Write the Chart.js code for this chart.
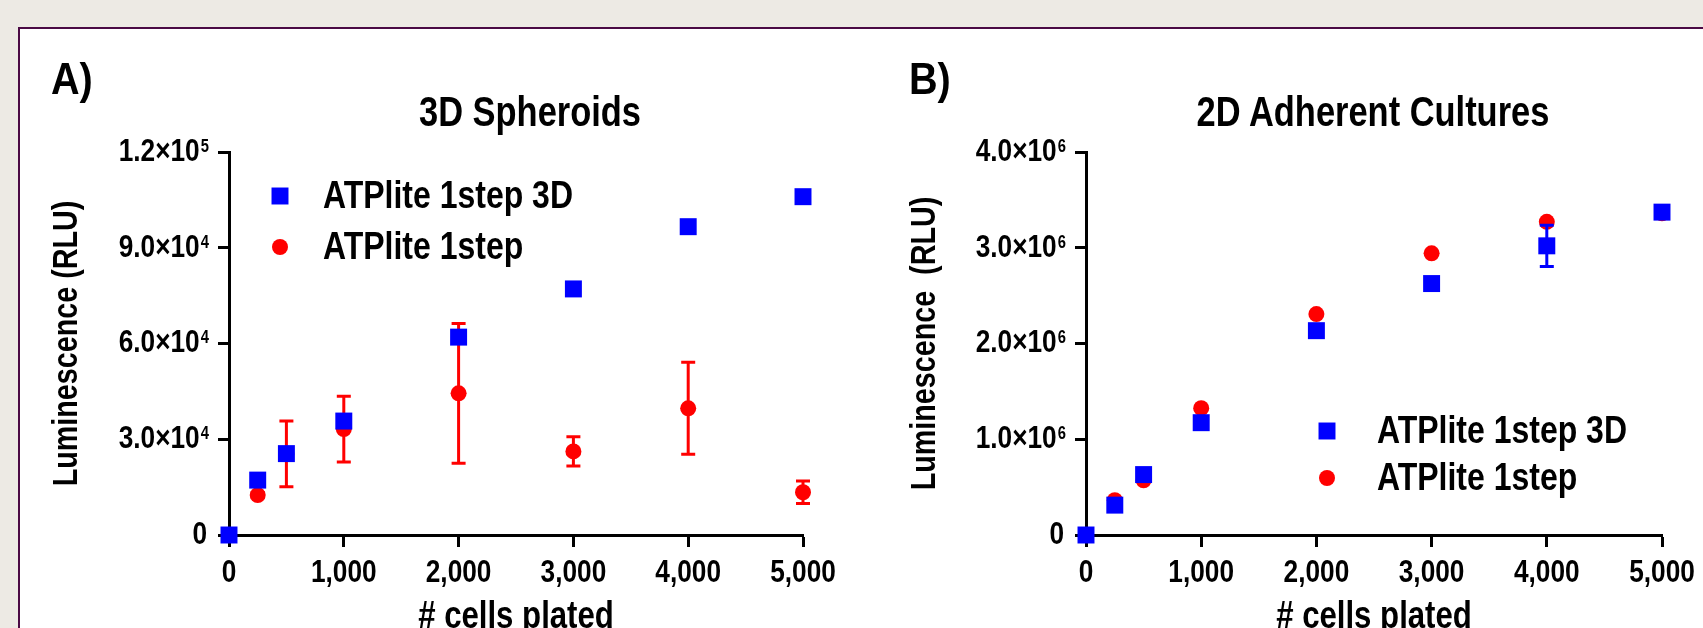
<!DOCTYPE html>
<html>
<head>
<meta charset="utf-8">
<script src="https://cdn.jsdelivr.net/npm/chart.js@4.4.1/dist/chart.umd.min.js"></script>
<style>
  html, body { margin: 0; padding: 0; width: 1703px; height: 628px; overflow: hidden; background: #edeae4; }
  #panel { position: absolute; left: 18px; top: 27px; width: 1800px; height: 700px; background: #fff;
           border-left: 2px solid #4b0a44; border-top: 2px solid #4b0a44; }
  canvas { position: absolute; top: 0; }
  .lbl { position: absolute; font-family: 'Liberation Sans', Arial, sans-serif; font-weight: bold; color: #000;
         white-space: nowrap; line-height: 1; transform: scaleX(0.82); transform-origin: 0 0; }
  .tag { font-size: 44px; top: 57px; transform: scaleX(0.9); }
  .ttl { text-align: center; width: 600px; font-size: 42px; top: 91px; transform-origin: 50% 0; }
</style>
</head>
<body>
<div id="panel"></div>
<canvas id="chartA" width="860" height="640" style="left:0"></canvas>
<canvas id="chartB" width="900" height="640" style="left:860px"></canvas>
<div class="lbl tag" style="left:51px">A)</div>
<div class="lbl tag" style="left:909px">B)</div>
<div class="lbl ttl" style="left:230px">3D Spheroids</div>
<div class="lbl ttl" style="left:1073px">2D Adherent Cultures</div>
<script>
// x values shared by both panels
const cellsPlated = [0, 250, 500, 1000, 2000, 3000, 4000, 5000];
const xTicks = [0, 1000, 2000, 3000, 4000, 5000];

// A) 3D spheroids
const spheroid3D = [0, 17200, 25500, 35700, 62000, 77100, 96600, 106000];
const spheroid3DErr = [0, 0, 0, 0, 0, 0, 0, 1500];
const spheroid1step = [0, 12500, 25400, 33200, 44400, 26200, 39700, 13400];
const spheroid1stepErr = [0, 800, 10300, 10300, 21900, 4600, 14400, 3500];
const spheroidYTicks = [0, 30000, 60000, 90000, 120000];

// B) 2D adherent cultures
const adherent3D = [0, 312000, 631000, 1173000, 2134000, 2626000, 3020000, 3372000];
const adherent3DErr = [0, 0, 0, 0, 0, 0, 215000, 0];
const adherent1step = [0, 364000, 572000, 1325000, 2307000, 2942000, 3271000, 3360000];
const adherent1stepErr = [0, 0, 0, 0, 0, 0, 0, 0];
const adherentYTicks = [0, 1000000, 2000000, 3000000, 4000000];

const seriesNames = ['ATPlite 1step 3D', 'ATPlite 1step'];

const FONT = "'Liberation Sans', Arial, sans-serif";
const BLUE = '#0000ff';
const RED = '#ff0000';
const TICK_SIZE = 32;
const NARROW = 0.82; // the figure uses a condensed face, squeeze text to match

// squeeze every text the chart writes, around its own anchor point
function condense(canvas, k) {
  const ctx = canvas.getContext('2d');
  const fill = ctx.fillText;
  ctx.fillText = function (text, x, y, maxWidth) {
    this.save();
    this.translate(x, y);
    this.scale(k, 1);
    if (maxWidth === undefined) fill.call(this, text, 0, 0);
    else fill.call(this, text, 0, 0, maxWidth / k);
    this.restore();
  };
}

// y tick text is "m.m×10 ", the exponent is drawn raised by the plugin below
function mantissa(v) {
  if (v === 0) return '0';
  const exp = Math.floor(Math.log10(v));
  return (v / Math.pow(10, exp)).toFixed(1) + '\u00d710 ';
}

function toPoints(xs, ys) {
  return xs.map((x, i) => ({ x: x, y: ys[i] }));
}

const exponents = {
  id: 'exponents',
  afterDraw(chart) {
    const ctx = chart.ctx;
    const scale = chart.scales.y;
    ctx.save();
    ctx.font = 'bold ' + TICK_SIZE + 'px ' + FONT;
    const space = ctx.measureText(' ').width * NARROW;
    const right = scale.right - scale.options.grid.tickLength - scale.options.ticks.padding;
    ctx.font = 'bold 18px ' + FONT;
    ctx.fillStyle = '#000';
    ctx.textBaseline = 'middle';
    ctx.textAlign = 'left';
    scale.ticks.forEach(t => {
      if (t.value === 0) return;
      const y = scale.getPixelForValue(t.value);
      ctx.fillText(String(Math.floor(Math.log10(t.value))), right - space + 1, y - 5);
    });
    ctx.restore();
  }
};

// error bars, drawn just before their own dataset so the draw order matches
const errorBars = {
  id: 'errorBars',
  beforeDatasetDraw(chart, args) {
    const ds = chart.data.datasets[args.index];
    if (!ds.errors) return;
    const ctx = chart.ctx;
    const x = chart.scales.x, y = chart.scales.y;
    ctx.save();
    ctx.strokeStyle = ds.backgroundColor;
    ctx.lineWidth = 3;
    ds.data.forEach((p, i) => {
      const e = ds.errors[i];
      if (!e) return;
      const px = x.getPixelForValue(p.x);
      const top = y.getPixelForValue(p.y + e);
      const bot = y.getPixelForValue(p.y - e);
      ctx.beginPath();
      ctx.moveTo(px, top); ctx.lineTo(px, bot);
      ctx.moveTo(px - 7, top); ctx.lineTo(px + 7, top);
      ctx.moveTo(px - 7, bot); ctx.lineTo(px + 7, bot);
      ctx.stroke();
    });
    ctx.restore();
  }
};

// small legend placed inside the plot
const boxLegend = {
  id: 'boxLegend',
  afterDraw(chart, args, opts) {
    const ctx = chart.ctx;
    ctx.save();
    chart.data.datasets.forEach((ds, i) => {
      const y = opts.y + i * opts.gap;
      ctx.fillStyle = ds.backgroundColor;
      Chart.helpers.drawPoint(ctx, { pointStyle: ds.pointStyle, radius: ds.pointRadius, borderWidth: 0 }, opts.x, y);
      ctx.fillStyle = '#000';
      ctx.font = 'bold 39px ' + FONT;
      ctx.textBaseline = 'middle';
      ctx.textAlign = 'left';
      ctx.fillText(ds.label, opts.x + opts.textGap, y + 1);
    });
    ctx.restore();
  }
};

function makeChart(id, opt) {
  const canvas = document.getElementById(id);
  condense(canvas, NARROW);
  return new Chart(canvas, {
    type: 'scatter',
    data: {
      datasets: [
        { label: seriesNames[0], data: toPoints(cellsPlated, opt.blue), errors: opt.blueErr,
          backgroundColor: BLUE, pointStyle: 'rect', pointRadius: 12, pointBorderWidth: 0, clip: false },
        { label: seriesNames[1], data: toPoints(cellsPlated, opt.red), errors: opt.redErr,
          backgroundColor: RED, pointStyle: 'circle', pointRadius: 8, pointBorderWidth: 0, clip: false }
      ]
    },
    options: {
      responsive: false,
      animation: false,
      layout: { padding: { left: opt.padLeft, top: 152, right: opt.padRight, bottom: 0 } },
      plugins: {
        legend: { display: false },
        tooltip: { enabled: false },
        boxLegend: opt.legend
      },
      scales: {
        x: {
          type: 'linear', min: 0, max: 5000,
          afterBuildTicks: s => { s.ticks = xTicks.map(v => ({ value: v })); },
          afterFit: s => { s.height = 105; },
          border: { color: '#000', width: 3 },
          grid: { drawOnChartArea: false, drawTicks: true, tickLength: 12, tickWidth: 3, tickColor: '#000' },
          ticks: { color: '#000', padding: 7, maxRotation: 0, font: { family: FONT, size: TICK_SIZE, weight: 'bold' },
                   callback: v => v.toLocaleString('en-US') },
          title: { display: true, text: '# cells plated', color: '#000', padding: { top: 0, bottom: 0 },
                   font: { family: FONT, size: 38, weight: 'bold' } }
        },
        y: {
          type: 'linear', min: 0, max: opt.yTicks[opt.yTicks.length - 1],
          afterBuildTicks: s => { s.ticks = opt.yTicks.map(v => ({ value: v })); },
          afterFit: s => { s.width = opt.yWidth; },
          border: { color: '#000', width: 3 },
          grid: { drawOnChartArea: false, drawTicks: true, tickLength: 11, tickWidth: 3, tickColor: '#000' },
          ticks: { color: '#000', padding: 11, font: { family: FONT, size: TICK_SIZE, weight: 'bold' }, callback: mantissa },
          title: { display: true, text: opt.yTitle, color: '#000', padding: { top: 0, bottom: 0 },
                   font: { family: FONT, size: 35, weight: 'bold' } }
        }
      }
    },
    plugins: [errorBars, boxLegend, exponents]
  });
}

makeChart('chartA', {
  blue: spheroid3D, blueErr: spheroid3DErr, red: spheroid1step, redErr: spheroid1stepErr,
  yTicks: spheroidYTicks, yTitle: 'Luminescence (RLU)',
  padLeft: 46, yWidth: 183, padRight: 57,
  legend: { x: 280, y: 196, gap: 51, textGap: 43 }
});

makeChart('chartB', {
  blue: adherent3D, blueErr: adherent3DErr, red: adherent1step, redErr: adherent1stepErr,
  yTicks: adherentYTicks, yTitle: 'Luminescence  (RLU)',
  padLeft: 44, yWidth: 182, padRight: 98,
  legend: { x: 467, y: 431, gap: 47, textGap: 50 }
});
</script>
</body>
</html>
